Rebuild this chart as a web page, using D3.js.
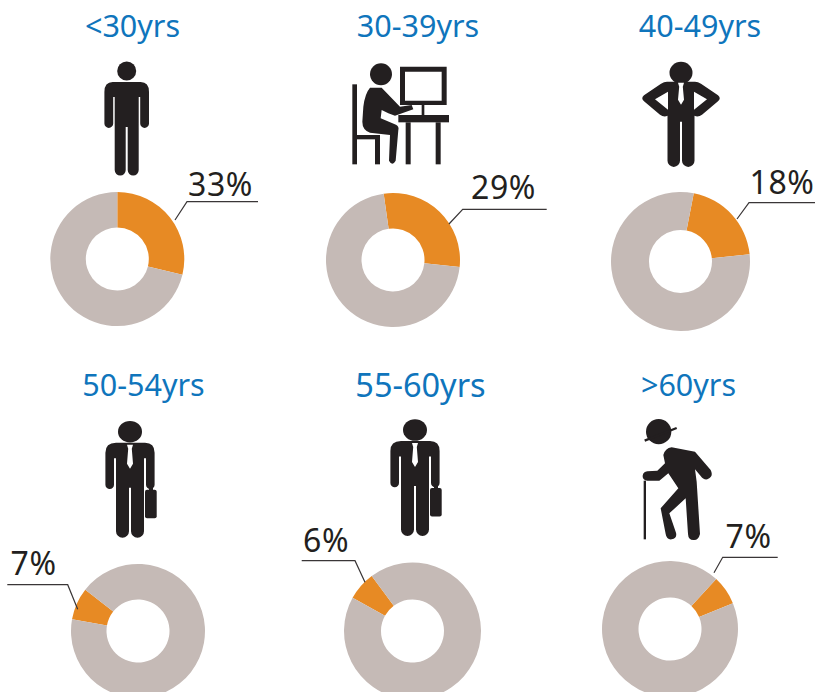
<!DOCTYPE html>
<html>
<head>
<meta charset="utf-8">
<script src="https://d3js.org/d3.v7.min.js"></script>
<style>
  html, body { margin: 0; padding: 0; background: #fff; }
  svg { display: block; }
  text { font-family: "Noto Sans", "Open Sans", sans-serif; }
</style>
</head>
<body>
<div id="chart"></div>
<script>
// values
var ageGroups = ["<30yrs", "30-39yrs", "40-49yrs", "50-54yrs", "55-60yrs", ">60yrs"];
var percentLabels = ["33%", "29%", "18%", "7%", "6%", "7%"];
// the slices are not drawn to the printed number, so this is what the wedge really shows
var drawnShare = [28.8, 28.9, 20.3, 7.8, 6.8, 6.9];
var sliceStartDeg = [0, -8, 11, -80, -61, 42.8];
var iconNames = ["man", "desk", "hips", "case", "case", "elder"];

// layout
var centers = [[117.3, 259], [393, 260], [680.5, 261.5], [138, 631], [412.5, 631], [670, 629]];
var radii = [67, 67, 69.5, 67, 68.5, 68];
var titlePos = [[132.5, 37], [418, 37], [700, 37], [143.5, 396], [420.5, 397], [688.5, 396]];
var titleSize = [30.5, 30.5, 30.5, 30.5, 32.5, 30.5];
var labelPos = [[188, 196], [471, 199], [749.5, 194], [10.5, 575], [303, 552], [725.5, 548]];
var leaders = [
  [[175, 220], [187, 201.7], [258, 201.7]],
  [[449, 224], [462.7, 209.3], [546.7, 209.3]],
  [[737, 219], [749, 202.7], [815, 202.7]],
  [[7.3, 584.7], [67.7, 584.7], [77.7, 609.3]],
  [[301.7, 560.7], [355, 560.7], [365, 582.3]],
  [[777.7, 557.3], [722.7, 557.3], [714, 572.7]]
];
var iconPos = [[126.7, 71], [320, 50], [681, 72.7], [130, 431.7], [415, 430], [600, 410]];

var svgWidth = 815;
var svgHeight = 692;
var orange = "#e78a24";
var grey = "#c5bab6";
var blue = "#0f75bc";
var ink = "#231f20";

var svg = d3.select("#chart").append("svg")
  .attr("id", "svg")
  .attr("width", svgWidth)
  .attr("height", svgHeight);

// pictograms, each one draws into the group it gets
var icons = {
  man: function(g) {
    g.append("circle").attr("r", 9.5).attr("fill", ink);
    g.append("path").attr("fill", ink)
      .attr("d", "M-14,11 L14,11 Q22.3,11 22.3,21 L22.3,52.5 A4.4,4.4 0 0 1 13.5,52.5 L13.5,26 L12,26 L12,99 A5.5,5.5 0 0 1 1,99 L1,56 L-1,56 L-1,99 A5.5,5.5 0 0 1 -12,99 L-12,26 L-13.5,26 L-13.5,52.5 A4.4,4.4 0 0 1 -22.3,52.5 L-22.3,21 Q-22.3,11 -14,11Z");
  },
  hips: function(g) {
    g.append("ellipse").attr("rx", 11.5).attr("ry", 11).attr("fill", ink);
    g.append("path").attr("fill", ink).attr("fill-rule", "evenodd")
      .attr("d", "M-14,9 L14,9 Q17,9 20,11 L37,22.5 Q40.5,25.5 37,28.5 L21,42 Q17,45 13.5,43 L13.5,88 A6,6 0 0 1 1,88 L1,49 L-1,49 L-1,88 A6,6 0 0 1 -13.5,88 L-13.5,43 Q-17,45 -21,42 L-37,28.5 Q-40.5,25.5 -37,22.5 L-20,11 Q-17,9 -14,9Z M-13,19 L-26,26.5 L-13,37Z M13,19 L26,26.5 L13,37Z");
    g.append("path").attr("fill", "#fff").attr("d", "M-3,10 L3,10 L1.8,14 L3,27 L0,32 L-3,27 L-1.8,14Z");
  },
  "case": function(g) {
    g.append("ellipse").attr("rx", 12).attr("ry", 10.8).attr("fill", ink);
    g.append("path").attr("fill", ink)
      .attr("d", "M-14,11 L15,11 Q24.6,11 24.6,21 L24.6,53 A4,4 0 0 1 16,53 L16,26.6 L14,26.6 L14,99.5 A6.2,6.2 0 0 1 1,99.5 L1,56 L-1,56 L-1,99.5 A6.2,6.2 0 0 1 -14,99.5 L-14,26.6 L-16,26.6 L-16,53 A4,4 0 0 1 -24.6,53 L-24.6,21 Q-24.6,11 -14,11Z");
    g.append("path").attr("fill", "#fff").attr("d", "M-3,13 L3,13 L1.8,17 L3,32 L0,37 L-3,32 L-1.8,17Z");
    g.append("rect").attr("x", 15).attr("y", 58).attr("width", 11.7).attr("height", 28.6).attr("rx", 2).attr("fill", ink);
    g.append("rect").attr("x", 19).attr("y", 55).attr("width", 4).attr("height", 4).attr("fill", ink);
  },
  // these two are traced in 3x zoom units
  desk: function(g) {
    var z = g.append("g").attr("transform", "scale(" + 1 / 3 + ")").attr("fill", ink);
    z.append("circle").attr("cx", 183).attr("cy", 73).attr("r", 33);
    z.append("path").attr("d", "M150,113 L185,113 L240,170 L275,165 L280,178 L225,197 L205,190 L185,180 L182,205 L228,224 Q238,230 235,240 L227,332 Q217,350 207,332 L210,255 L150,248 Q127,240 127,215 L130,170 Q135,130 150,113Z");
    z.append("path").attr("fill-rule", "evenodd").attr("d", "M240,50 L380,50 L380,165 L240,165Z M255,65 L255,152 L365,152 L365,65Z");
    z.append("rect").attr("x", 305).attr("y", 165).attr("width", 8).attr("height", 30);
    z.append("rect").attr("x", 235).attr("y", 195).attr("width", 152).attr("height", 22);
    z.append("rect").attr("x", 257).attr("y", 217).attr("width", 15).attr("height", 126);
    z.append("rect").attr("x", 347).attr("y", 217).attr("width", 15).attr("height", 126);
    z.append("rect").attr("x", 97).attr("y", 103).attr("width", 14).attr("height", 240);
    z.append("rect").attr("x", 110).attr("y", 255).attr("width", 70).attr("height", 13);
    z.append("rect").attr("x", 165).attr("y", 255).attr("width", 15).attr("height", 88);
  },
  elder: function(g) {
    var z = g.append("g").attr("transform", "scale(" + 1 / 3 + ")").attr("fill", ink);
    z.append("circle").attr("cx", 176).attr("cy", 65).attr("r", 38);
    z.append("line").attr("x1", 134).attr("y1", 92).attr("x2", 230).attr("y2", 54)
      .attr("stroke", ink).attr("stroke-width", 7);
    z.append("path").attr("d", "M190,135 Q195,115 215,112 L285,125 L332,180 Q342,200 322,208 Q310,210 302,198 L285,178 L290,215 L300,372 Q295,392 280,390 Q265,390 264,372 L257,265 L208,310 L228,368 Q232,385 215,388 Q200,390 197,372 L182,295 L235,235 L205,190 L178,212 L142,212 Q127,210 128,197 Q130,185 142,184 L172,182 L195,160Z");
    z.append("rect").attr("x", 131).attr("y", 212).attr("width", 7).attr("height", 176);
  }
};

var arc = d3.arc();

ageGroups.forEach(function(name, i) {
  var R = radii[i];
  var start = sliceStartDeg[i] * Math.PI / 180;
  var pie = d3.pie().sort(null)
    .startAngle(start)
    .endAngle(start + 2 * Math.PI);

  var donut = svg.append("g")
    .attr("class", "donut")
    .attr("transform", "translate(" + centers[i][0] + "," + centers[i][1] + ")");

  donut.selectAll("path")
    .data(pie([drawnShare[i], 100 - drawnShare[i]]))
    .enter()
    .append("path")
    .attr("fill", function(d, j) { return j == 0 ? orange : grey; })
    .attr("d", function(d) {
      return arc({ innerRadius: 31.5, outerRadius: R, startAngle: d.startAngle, endAngle: d.endAngle });
    });

  svg.append("path")
    .attr("d", d3.line()(leaders[i]))
    .attr("fill", "none")
    .attr("stroke", "#3a3637")
    .attr("stroke-width", 1.2);

  svg.append("text")
    .attr("x", labelPos[i][0])
    .attr("y", labelPos[i][1])
    .attr("font-size", 32)
    .attr("letter-spacing", 0.6)
    .attr("fill", ink)
    .text(percentLabels[i]);

  svg.append("text")
    .attr("x", titlePos[i][0])
    .attr("y", titlePos[i][1])
    .attr("font-size", titleSize[i])
    .attr("text-anchor", "middle")
    .attr("fill", blue)
    .text(name);

  var icon = svg.append("g")
    .attr("class", "icon")
    .attr("transform", "translate(" + iconPos[i][0] + "," + iconPos[i][1] + ")");
  icons[iconNames[i]](icon);
});
</script>
</body>
</html>
